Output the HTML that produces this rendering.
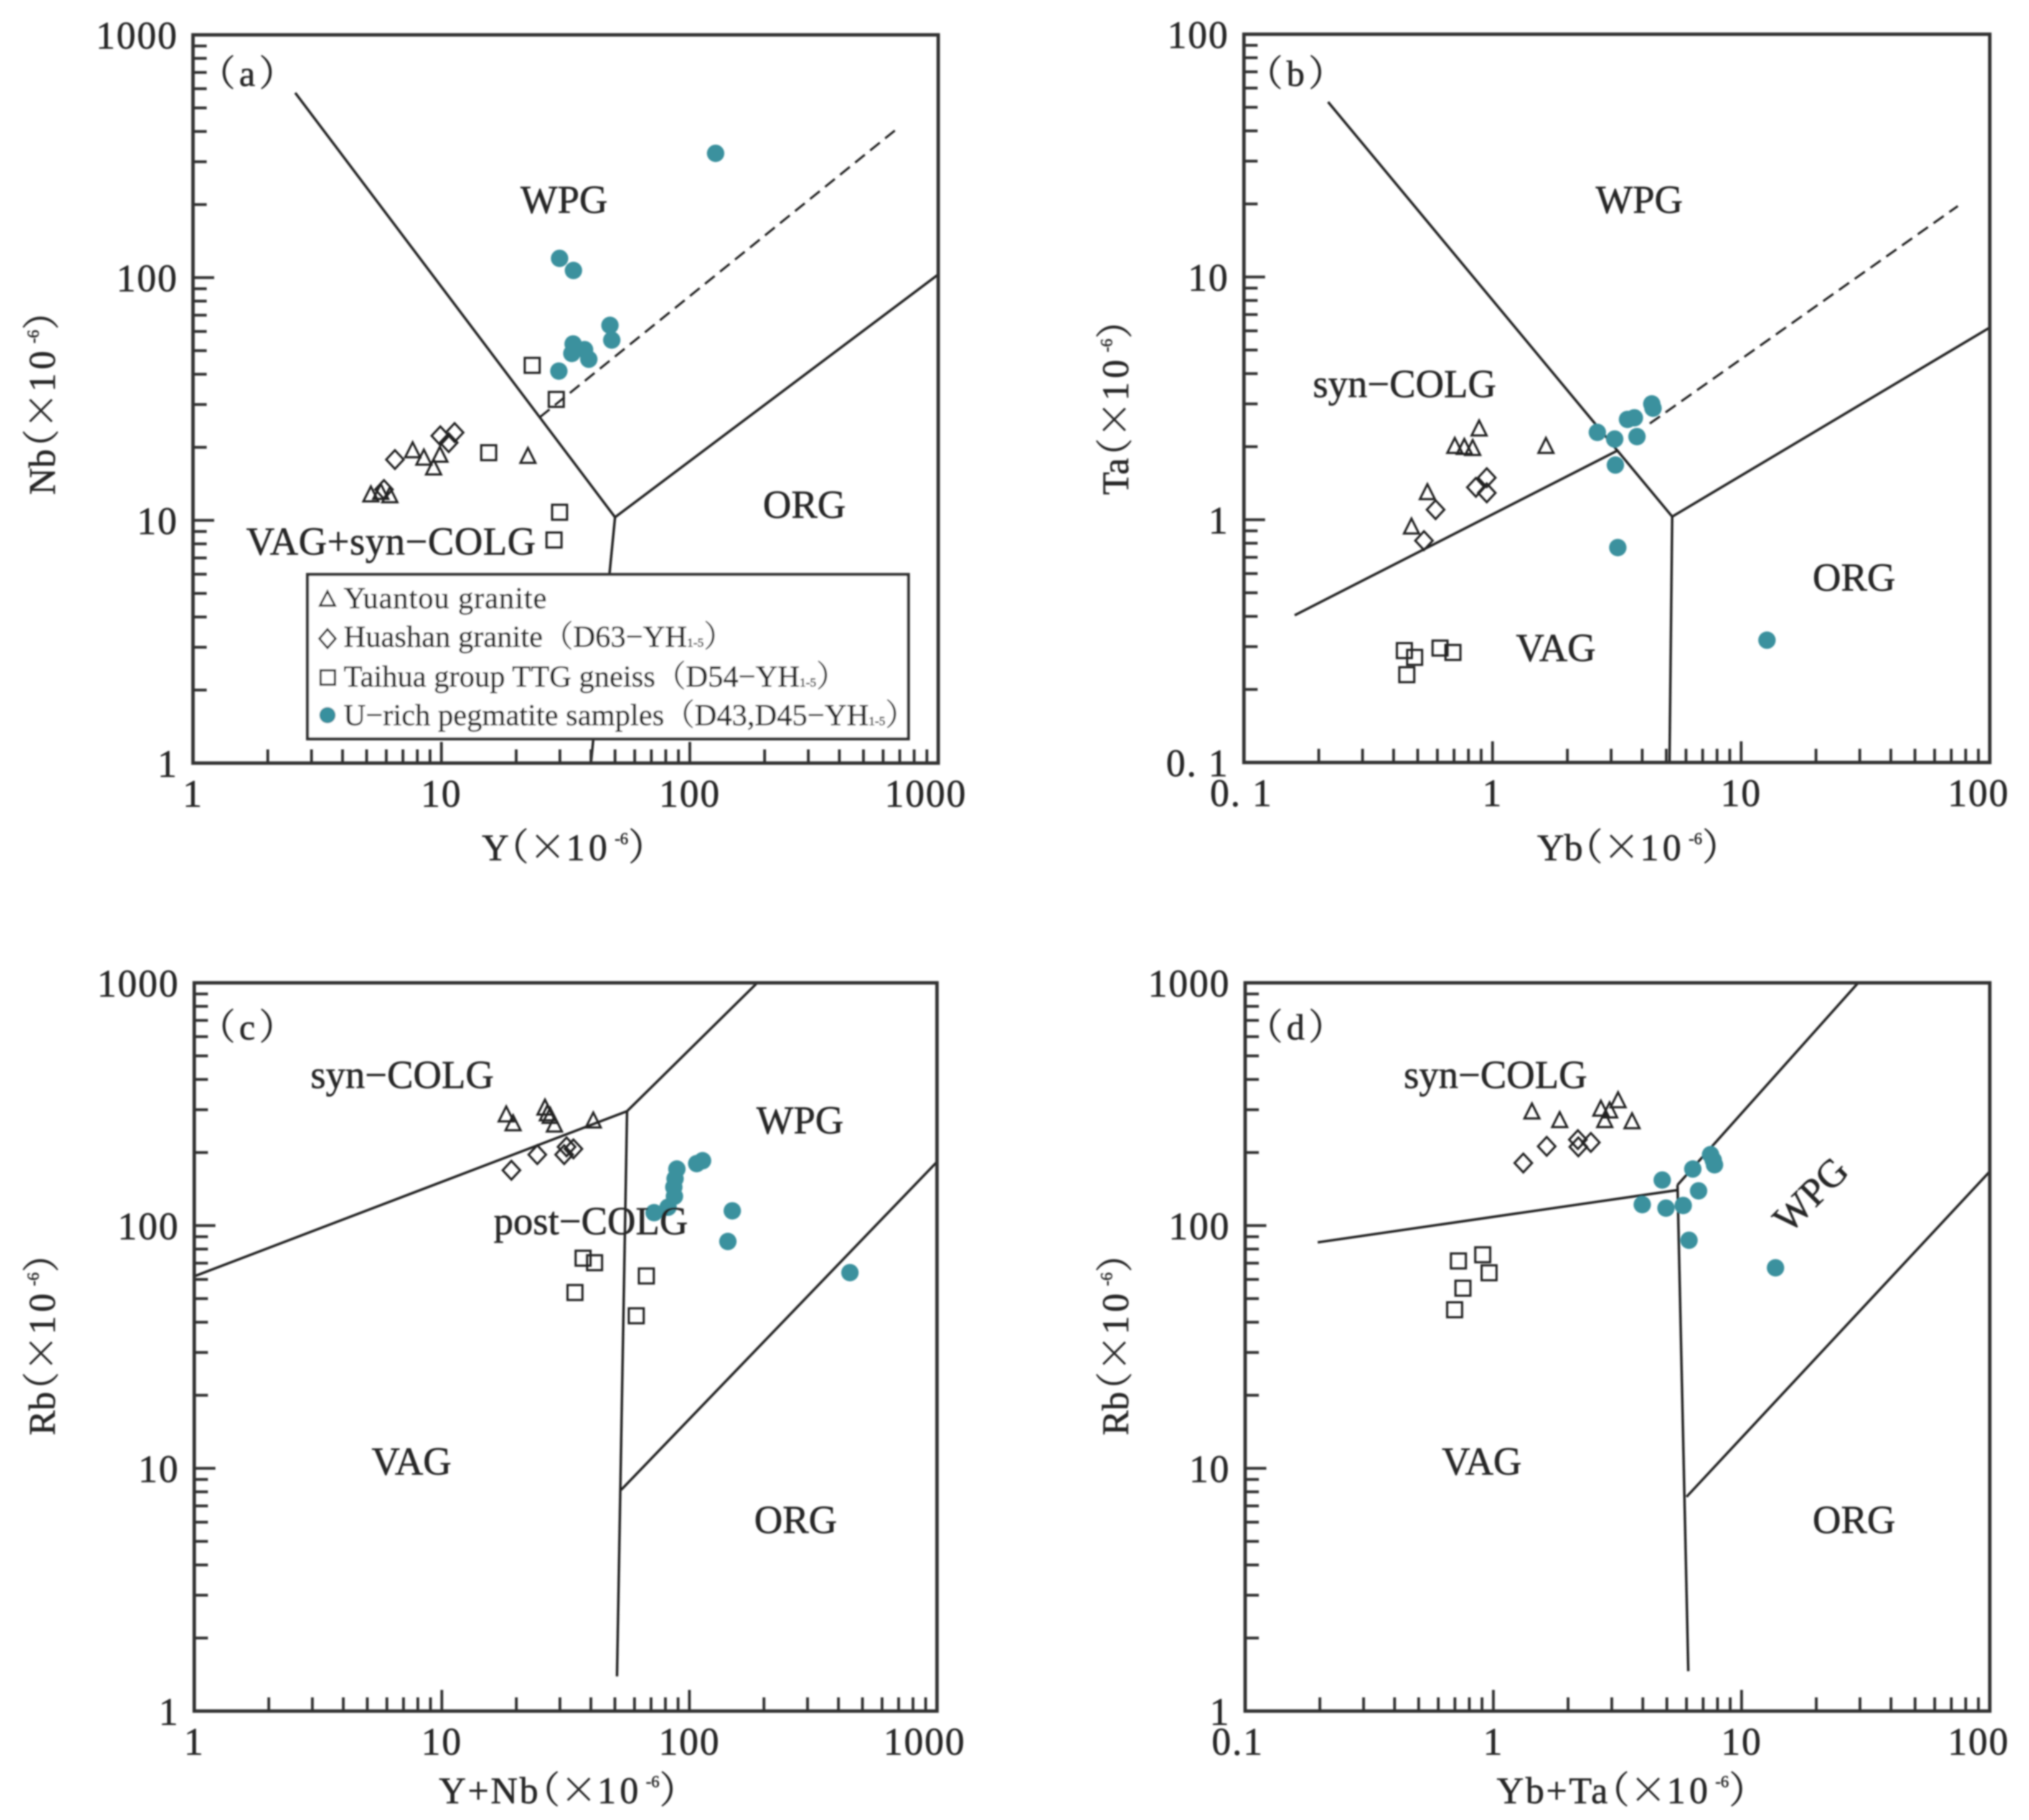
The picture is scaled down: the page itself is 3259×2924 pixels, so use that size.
<!DOCTYPE html>
<html>
<head>
<meta charset="utf-8">
<style>
html,body{margin:0;padding:0;background:#fff;width:3259px;height:2924px;overflow:hidden}
svg{display:block}
text{font-family:"Liberation Serif","Noto Serif CJK SC",serif;fill:#262626;stroke:#262626;stroke-width:0.7px}
.tl{font-size:62px;letter-spacing:2px}
.rg{font-size:63px;text-anchor:middle}
.pl{font-size:58px;text-anchor:middle;letter-spacing:6px}
.at{font-size:60px}
.wide{font-family:"Noto Serif CJK SC",serif}
.ten{letter-spacing:6px}
.sup{font-size:26px}
.lg{font-size:49px}
.sub{font-size:20px}
.wy{letter-spacing:3px}
</style>
</head>
<body>
<svg id="chart" xmlns="http://www.w3.org/2000/svg" width="3259" height="2924" viewBox="0 0 3259 2924">
<defs><filter id="soft" x="0" y="0" width="100%" height="100%"><feGaussianBlur stdDeviation="1.3"/></filter></defs>
<rect x="0" y="0" width="3259" height="2924" fill="#fff"/>
<g filter="url(#soft)">
<g id="marks"></g>

<g>
<text class="pl" x="400" y="138">（a）</text>
<text class="rg" x="906" y="342">WPG</text>
<text class="rg" x="1292" y="832">ORG</text>
<text class="rg" x="628" y="891" textLength="465">VAG+syn−COLG</text>
<text class="at" x="774" y="1382">Y<tspan class="wide" dx="-28">（×</tspan><tspan class="ten">10</tspan><tspan class="sup" dx="6" dy="-26">-6</tspan><tspan class="wide" dy="26">）</tspan></text>
<text class="at" transform="translate(88,795) rotate(-90)">Nb<tspan class="wide" dx="-28">（×</tspan><tspan class="ten">10</tspan><tspan class="sup" dx="6" dy="-26">-6</tspan><tspan class="wide" dy="26">）</tspan></text>
</g>

<g>
<text class="pl" x="2084" y="138">（b）</text>
<text class="rg" x="2633" y="342">WPG</text>
<text class="rg" x="2256" y="638">syn−COLG</text>
<text class="rg" x="2978" y="949">ORG</text>
<text class="rg" x="2499" y="1062">VAG</text>
<text class="at" x="2469" y="1382">Yb<tspan class="wide" dx="-28">（×</tspan><tspan class="ten">10</tspan><tspan class="sup" dx="6" dy="-26">-6</tspan><tspan class="wide" dy="26">）</tspan></text>
<text class="at" transform="translate(1812,795) rotate(-90)">Ta<tspan class="wide" dx="-28">（×</tspan><tspan class="ten">10</tspan><tspan class="sup" dx="6" dy="-26">-6</tspan><tspan class="wide" dy="26">）</tspan></text>
</g>

<g>
<text class="pl" x="400" y="1670">（c）</text>
<text class="rg" x="646" y="1748">syn−COLG</text>
<text class="rg" x="1285" y="1821">WPG</text>
<text class="rg" x="949" y="1983">post−COLG</text>
<text class="rg" x="661" y="2369">VAG</text>
<text class="rg" x="1278" y="2463">ORG</text>
<text class="at" x="705" y="2897"><tspan class="wy">Y+Nb</tspan><tspan class="wide" dx="-28">（×</tspan><tspan class="ten">10</tspan><tspan class="sup" dx="6" dy="-26">-6</tspan><tspan class="wide" dy="26">）</tspan></text>
<text class="at" transform="translate(88,2306) rotate(-90)">Rb<tspan class="wide" dx="-28">（×</tspan><tspan class="ten">10</tspan><tspan class="sup" dx="6" dy="-26">-6</tspan><tspan class="wide" dy="26">）</tspan></text>
</g>

<g>
<text class="pl" x="2084" y="1670">（d）</text>
<text class="rg" x="2402" y="1748">syn−COLG</text>
<text class="rg" transform="translate(2923,1934) rotate(-45)">WPG</text>
<text class="rg" x="2380" y="2369">VAG</text>
<text class="rg" x="2978" y="2463">ORG</text>
<text class="at" x="2404" y="2897"><tspan class="wy">Yb+Ta</tspan><tspan class="wide" dx="-28">（×</tspan><tspan class="ten">10</tspan><tspan class="sup" dx="6" dy="-26">-6</tspan><tspan class="wide" dy="26">）</tspan></text>
<text class="at" transform="translate(1812,2306) rotate(-90)">Rb<tspan class="wide" dx="-28">（×</tspan><tspan class="ten">10</tspan><tspan class="sup" dx="6" dy="-26">-6</tspan><tspan class="wide" dy="26">）</tspan></text>
</g>

<g>
<rect x="494" y="923" width="965" height="264" fill="#fff" stroke="#333" stroke-width="5"/>
<polygon points="526,950 538,973 514,973" fill="none" stroke="#222" stroke-width="3.5"/>
<text class="lg" x="552" y="977" textLength="326">Yuantou  granite</text>
<polygon points="526,1011 539,1026 526,1041 513,1026" fill="none" stroke="#222" stroke-width="3.5"/>
<text class="lg" x="552" y="1039">Huashan granite<tspan class="wide">（</tspan>D63−YH<tspan class="sub">1-5</tspan><tspan class="wide">）</tspan></text>
<rect x="515" y="1077" width="23" height="23" fill="none" stroke="#222" stroke-width="3.5"/>
<text class="lg" x="552" y="1103">Taihua group TTG gneiss<tspan class="wide">（</tspan>D54−YH<tspan class="sub">1-5</tspan><tspan class="wide">）</tspan></text>
<circle cx="526" cy="1149" r="13" fill="#38909e"/>
<text class="lg" x="552" y="1165">U−rich pegmatite samples<tspan class="wide">（</tspan>D43,D45−YH<tspan class="sub">1-5</tspan><tspan class="wide">）</tspan></text>
</g>
</g>
</svg>
<script>
// Panel (a): Y vs Nb
const panelAYuantouX = [5.2, 5.7, 6.2, 7.66, 8.5, 9.3, 9.86, 22.3];
const panelAYuantouY = [12.7, 13, 12.6, 19.3, 18, 16.4, 18.5, 18.3];
const panelAHuashanX = [5.87, 6.5, 9.9, 10.7, 11.3];
const panelAHuashanY = [13.4, 17.8, 22.3, 20.9, 23];
const panelATaihuaX = [23.2, 29, 15.5, 29.9, 28.4];
const panelATaihuaY = [43.5, 31.5, 19, 10.8, 8.3];
const panelAPegmatiteX = [127, 29.9, 34, 47.7, 48.5, 33.9, 33.5, 37.7, 39.2, 29.7];
const panelAPegmatiteY = [325, 120, 107, 63.6, 55.3, 53.3, 48.7, 50.5, 46.1, 41.2];
const panelABoundaryX = [[2.58, 50], [50, 1000], [50, 40]];
const panelABoundaryY = [[577, 10.3], [10.3, 103], [10.3, 1]];
const panelADashedX = [24.9, 698];
const panelADashedY = [26.6, 418];
const panelAXTicks = [1, 10, 100, 1000];
const panelAXTickLabels = ["1", "10", "100", "1000"];
const panelAYTicks = [1, 10, 100, 1000];
const panelAYTickLabels = ["1", "10", "100", "1000"];

// Panel (b): Yb vs Ta
const panelBYuantouX = [0.472, 0.547, 0.705, 0.77, 0.832, 0.883, 1.64];
const panelBYuantouY = [0.931, 1.29, 2.0, 1.98, 1.96, 2.36, 2.0];
const panelBHuashanX = [0.53, 0.59, 0.857, 0.948, 0.948];
const panelBHuashanY = [0.82, 1.1, 1.36, 1.49, 1.29];
const panelBTaihuaX = [0.442, 0.486, 0.452, 0.615, 0.693];
const panelBTaihuaY = [0.289, 0.271, 0.23, 0.296, 0.284];
const panelBPegmatiteX = [2.64, 3.1, 3.49, 3.72, 3.81, 4.37, 4.42, 3.12, 3.19, 12.7];
const panelBPegmatiteY = [2.29, 2.15, 2.59, 2.63, 2.2, 3.0, 2.88, 1.68, 0.768, 0.319];
const panelBBoundaryX = [[0.218, 5.28], [5.28, 100], [5.28, 5.15], [0.16, 3.19]];
const panelBBoundaryY = [[52.6, 1.03], [1.03, 6.19], [1.03, 0.1], [0.404, 1.93]];
const panelBDashedX = [4.29, 74.4];
const panelBDashedY = [2.49, 19.6];
const panelBXTicks = [0.1, 1, 10, 100];
const panelBXTickLabels = ["0. 1", "1", "10", "100"];
const panelBYTicks = [0.1, 1, 10, 100];
const panelBYTickLabels = ["0. 1", "1", "10", "100"];

// Panel (c): Y+Nb vs Rb
const panelCYuantouX = [18.2, 19.4, 26.1, 26.7, 27.4, 28.5, 40.9];
const panelCYuantouY = [285, 262, 304, 288, 281, 259, 269];
const panelCHuashanX = [19.1, 24.3, 31.2, 31.9, 34];
const panelCHuashanY = [169, 196, 196, 211, 207];
const panelCTaihuaX = [37.2, 41.4, 34.5, 67, 61];
const panelCTaihuaY = [73.4, 70.3, 53, 62, 42.5];
const panelCPegmatiteX = [72, 82, 89, 87.5, 86.5, 87, 107, 113, 149, 143, 445];
const panelCPegmatiteY = [113, 119, 171, 156, 144, 132, 180, 185, 115, 86, 64];
const panelCBoundaryX = [[1, 56], [56, 188], [56, 51], [53, 1000]];
const panelCBoundaryY = [[61.8, 296], [296, 1000], [296, 1.39], [8.15, 183]];
const panelCXTicks = [1, 10, 100, 1000];
const panelCXTickLabels = ["1", "10", "100", "1000"];
const panelCYTicks = [1, 10, 100, 1000];
const panelCYTickLabels = ["1", "10", "100", "1000"];

// Panel (d): Yb+Ta vs Rb
const panelDYuantouX = [1.43, 1.85, 2.71, 2.94, 3.18, 2.81, 3.62];
const panelDYuantouY = [293, 270, 301, 296, 326, 270, 267];
const panelDHuashanX = [1.32, 1.64, 2.19, 2.2, 2.47];
const panelDHuashanY = [181, 212, 226, 211, 220];
const panelDTaihuaX = [0.723, 0.906, 0.961, 0.754, 0.698];
const panelDTaihuaY = [71.5, 75.8, 63.9, 55.2, 45];
const panelDPegmatiteX = [4.79, 6.36, 7.5, 7.69, 7.78, 6.71, 3.98, 4.96, 5.82, 6.14, 13.7];
const panelDPegmatiteY = [154, 171, 196, 186, 178, 139, 122, 118, 121, 87, 67];
const panelDBoundaryX = [[0.196, 5.52], [5.52, 29.5], [5.52, 6.1], [6, 100]];
const panelDBoundaryY = [[85.3, 140], [147, 1000], [147, 1.46], [7.63, 167]];
const panelDXTicks = [0.1, 1, 10, 100];
const panelDXTickLabels = ["0.1", "1", "10", "100"];
const panelDYTicks = [1, 10, 100, 1000];
const panelDYTickLabels = ["1", "10", "100", "1000"];

const SVGNS = "http://www.w3.org/2000/svg";
const root = document.getElementById("marks");
const TEAL = "#3a919e";
const INK = "#222";

function make(tag, attrs, name, parent) {
  const el = document.createElementNS(SVGNS, tag);
  for (const k in attrs) el.setAttribute(k, attrs[k]);
  
  
  parent.appendChild(el);
  return el;
}

function drawPanel(id, box, d) {
  const lx0 = Math.log10(box.xMin), lx1 = Math.log10(box.xMax);
  const ly0 = Math.log10(box.yMin), ly1 = Math.log10(box.yMax);
  const sx = v => box.left + (Math.log10(v) - lx0) / (lx1 - lx0) * (box.right - box.left);
  const sy = v => box.bottom - (Math.log10(v) - ly0) / (ly1 - ly0) * (box.bottom - box.top);
  const g = make("g", {}, "panel-" + id, root);

  // boundary lines
  d.boundaryX.forEach((xs, i) => {
    make("line", {x1: sx(xs[0]), y1: sy(d.boundaryY[i][0]), x2: sx(xs[1]), y2: sy(d.boundaryY[i][1]), stroke: INK, "stroke-width": 4}, "field-boundary-" + id, g);
  });
  if (d.dashedX) {
    make("line", {x1: sx(d.dashedX[0]), y1: sy(d.dashedY[0]), x2: sx(d.dashedX[1]), y2: sy(d.dashedY[1]), stroke: INK, "stroke-width": 3.5, "stroke-dasharray": "20 11"}, "dashed-boundary-" + id, g);
  }

  // frame
  make("rect", {x: box.left, y: box.top, width: box.right - box.left, height: box.bottom - box.top, fill: "none", stroke: "#333", "stroke-width": 5.5}, "plot-frame-" + id, g);

  // minor and major ticks
  for (let e = Math.round(lx0); e < Math.round(lx1); e++) {
    for (let m = 1; m < 10; m++) {
      const v = m * Math.pow(10, e);
      const len = m === 1 ? 34 : 22;
      if (m > 1 || e !== Math.round(lx0)) {
        make("line", {x1: sx(v), y1: box.bottom, x2: sx(v), y2: box.bottom - len, stroke: "#333", "stroke-width": 4.5}, "x-tick-" + id, g);
      }
    }
  }
  for (let e = Math.round(ly0); e < Math.round(ly1); e++) {
    for (let m = 1; m < 10; m++) {
      const v = m * Math.pow(10, e);
      const len = m === 1 ? 34 : 22;
      if (m > 1 || e !== Math.round(ly0)) {
        make("line", {x1: box.left, y1: sy(v), x2: box.left + len, y2: sy(v), stroke: "#333", "stroke-width": 4.5}, "y-tick-" + id, g);
      }
    }
  }

  // tick labels
  d.xTicks.forEach((v, i) => {
    const last = i === d.xTicks.length - 1;
    const t = make("text", {x: sx(v) + (last ? box.lastShift : 0) + (i === 0 ? box.firstShift : 0), y: box.bottom + 70, "text-anchor": "middle", class: "tl"}, "x-tick-label-" + id, g);
    t.textContent = d.xTickLabels[i];
  });
  d.yTicks.forEach((v, i) => {
    const t = make("text", {x: box.left - 24, y: sy(v) + 22, "text-anchor": "end", class: "tl"}, "y-tick-label-" + id, g);
    t.textContent = d.yTickLabels[i];
  });

  // series
  const line = {fill: "none", stroke: INK, "stroke-width": 3.5};
  d.taihuaX.forEach((v, i) => {
    const x = sx(v), y = sy(d.taihuaY[i]);
    make("rect", Object.assign({x: x - 12, y: y - 12, width: 24, height: 24}, line), "taihua-point-" + id, g);
  });
  d.huashanX.forEach((v, i) => {
    const x = sx(v), y = sy(d.huashanY[i]);
    make("polygon", Object.assign({points: x + "," + (y - 15) + " " + (x + 14) + "," + y + " " + x + "," + (y + 15) + " " + (x - 14) + "," + y}, line), "huashan-point-" + id, g);
  });
  d.yuantouX.forEach((v, i) => {
    const x = sx(v), y = sy(d.yuantouY[i]);
    make("polygon", Object.assign({points: x + "," + (y - 14) + " " + (x + 12) + "," + (y + 10) + " " + (x - 12) + "," + (y + 10)}, line), "yuantou-point-" + id, g);
  });
  d.pegmatiteX.forEach((v, i) => {
    make("circle", {cx: sx(v), cy: sy(d.pegmatiteY[i]), r: 14, fill: TEAL}, "pegmatite-point-" + id, g);
  });
}

drawPanel("a", {left: 310, right: 1507, top: 56, bottom: 1226, xMin: 1, xMax: 1000, yMin: 1, yMax: 1000, lastShift: -20, firstShift: 0}, {
  yuantouX: panelAYuantouX, yuantouY: panelAYuantouY, huashanX: panelAHuashanX, huashanY: panelAHuashanY,
  taihuaX: panelATaihuaX, taihuaY: panelATaihuaY, pegmatiteX: panelAPegmatiteX, pegmatiteY: panelAPegmatiteY,
  boundaryX: panelABoundaryX, boundaryY: panelABoundaryY, dashedX: panelADashedX, dashedY: panelADashedY,
  xTicks: panelAXTicks, xTickLabels: panelAXTickLabels, yTicks: panelAYTicks, yTickLabels: panelAYTickLabels
});
drawPanel("b", {left: 1998, right: 3196, top: 55, bottom: 1225, xMin: 0.1, xMax: 100, yMin: 0.1, yMax: 100, lastShift: -18, firstShift: -4}, {
  yuantouX: panelBYuantouX, yuantouY: panelBYuantouY, huashanX: panelBHuashanX, huashanY: panelBHuashanY,
  taihuaX: panelBTaihuaX, taihuaY: panelBTaihuaY, pegmatiteX: panelBPegmatiteX, pegmatiteY: panelBPegmatiteY,
  boundaryX: panelBBoundaryX, boundaryY: panelBBoundaryY, dashedX: panelBDashedX, dashedY: panelBDashedY,
  xTicks: panelBXTicks, xTickLabels: panelBXTickLabels, yTicks: panelBYTicks, yTickLabels: panelBYTickLabels
});
drawPanel("c", {left: 312, right: 1505, top: 1579, bottom: 2749, xMin: 1, xMax: 1000, yMin: 1, yMax: 1000, lastShift: -20, firstShift: 0}, {
  yuantouX: panelCYuantouX, yuantouY: panelCYuantouY, huashanX: panelCHuashanX, huashanY: panelCHuashanY,
  taihuaX: panelCTaihuaX, taihuaY: panelCTaihuaY, pegmatiteX: panelCPegmatiteX, pegmatiteY: panelCPegmatiteY,
  boundaryX: panelCBoundaryX, boundaryY: panelCBoundaryY,
  xTicks: panelCXTicks, xTickLabels: panelCXTickLabels, yTicks: panelCYTicks, yTickLabels: panelCYTickLabels
});
drawPanel("d", {left: 2000, right: 3196, top: 1579, bottom: 2749, xMin: 0.1, xMax: 100, yMin: 1, yMax: 1000, lastShift: -18, firstShift: -12}, {
  yuantouX: panelDYuantouX, yuantouY: panelDYuantouY, huashanX: panelDHuashanX, huashanY: panelDHuashanY,
  taihuaX: panelDTaihuaX, taihuaY: panelDTaihuaY, pegmatiteX: panelDPegmatiteX, pegmatiteY: panelDPegmatiteY,
  boundaryX: panelDBoundaryX, boundaryY: panelDBoundaryY,
  xTicks: panelDXTicks, xTickLabels: panelDXTickLabels, yTicks: panelDYTicks, yTickLabels: panelDYTickLabels
});
</script>
</body>
</html>
